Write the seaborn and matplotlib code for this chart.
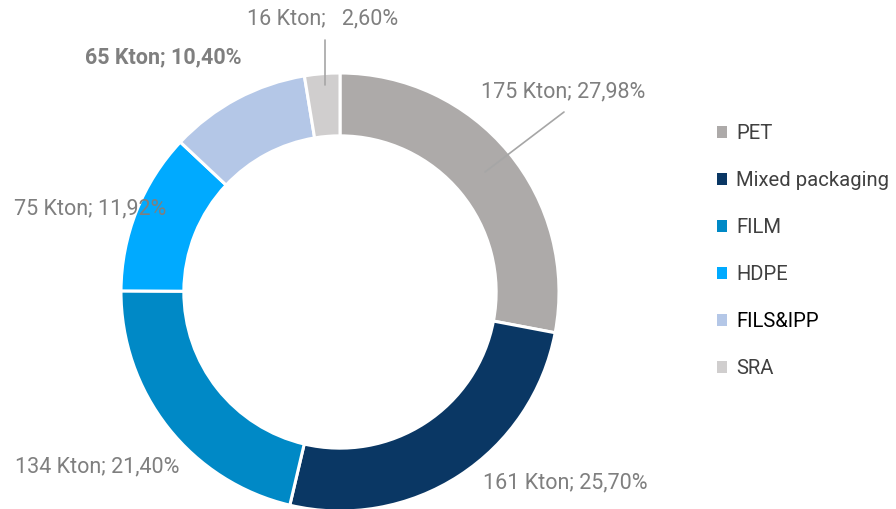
import matplotlib
matplotlib.use("Agg")
import matplotlib.pyplot as plt
import seaborn as sns
import numpy as np
from matplotlib.patches import Patch

sns.set_theme(style="white")
plt.rcParams['font.family'] = ['Roboto', 'DejaVu Sans']

categories = ["PET", "Mixed packaging", "FILM", "HDPE", "FILS&IPP", "SRA"]
kton = [175, 161, 134, 75, 65, 16]
percent = ["27,98%", "25,70%", "21,40%", "11,92%", "10,40%", "2,60%"]
shares = [27.98, 25.70, 21.40, 11.92, 10.40, 2.60]
colors = ["#ADAAA9", "#0A3764", "#0089C6", "#00AAFF", "#B4C7E7", "#D0CECE"]

W, H = 896, 509
fig = plt.figure(figsize=(W / 100, H / 100), dpi=100)
ax = fig.add_axes([0, 0, 1, 1])
R = 219.0
cx, cy = 340.0, 292.0

wedges, _ = ax.pie(shares, colors=colors, startangle=90, counterclock=False,
                   radius=1.0, wedgeprops=dict(width=0.287, edgecolor="white", linewidth=2.2))
ax.set_aspect("auto")
ax.set_xlim(-cx / R, (W - cx) / R)
ax.set_ylim(-(H - cy) / R, cy / R)
ax.axis("off")

def px(x, y):
    return ((x - cx) / R, (cy - y) / R)

lab_color = "#7F7F7F"
fs = 15.5
label_pos = [(563, 92), (565, 483), (97, 467), (90, 209), (163, 57), (323, 19)]
labels = [f"{k} Kton; {p}" for k, p in zip(kton, percent)]
labels[5] = f"{kton[5]} Kton;   {percent[5]}"
for i, (lab, pos) in enumerate(zip(labels, label_pos)):
    x, y = px(*pos)
    ax.text(x, y, lab, ha="center", va="center", fontsize=fs, color=lab_color,
            fontweight="bold" if i == 4 else "normal")

# leader lines
for (x0, y0), (x1, y1) in [((485, 172), (564, 112)), ((325, 40), (325, 85))]:
    a, b = px(x0, y0)
    c, d = px(x1, y1)
    ax.plot([a, c], [b, d], color="#A6A6A6", lw=1.2)

handles = [Patch(facecolor=c, edgecolor="none", label=l) for c, l in zip(colors, categories)]
leg = ax.legend(handles=handles, loc="upper left", bbox_to_anchor=(709 / W, 1 - 116 / H),
                frameon=False, fontsize=14.6, labelspacing=1.38, handlelength=0.5,
                handleheight=0.5, handletextpad=0.45, borderaxespad=0)
for t in leg.get_texts():
    t.set_color("#404040")
leg.get_texts()[4].set_color("#000000")

fig.savefig("out.png", dpi=100, facecolor="white")
